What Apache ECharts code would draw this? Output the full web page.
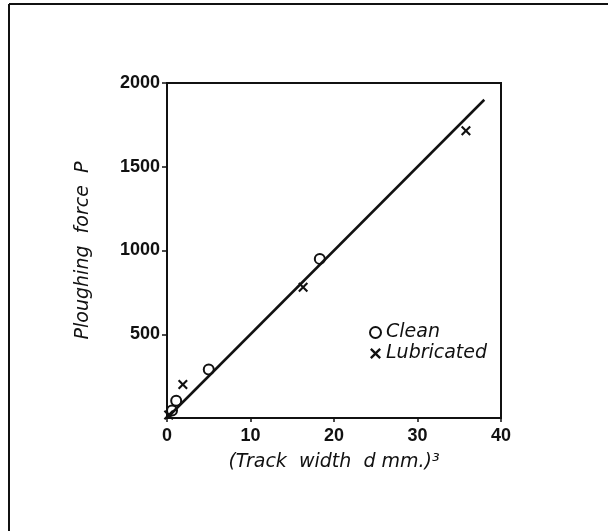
<!DOCTYPE html>
<html>
<head>
<meta charset="utf-8">
<script src="https://cdn.jsdelivr.net/npm/echarts@6/dist/echarts.min.js"></script>
<style>
  html, body { margin: 0; padding: 0; background: #fff; }
  #chart { width: 608px; height: 531px; }
</style>
</head>
<body>
<div id="chart"></div>
<script>
// Ploughing force P against the cube of the track width d (mm)
const xTicks = [0, 10, 20, 30, 40];
const yTicks = [0, 500, 1000, 1500, 2000];

const cleanX = [0.6, 1.1, 5.0, 18.3];
const cleanY = [45, 103, 290, 950];

const lubricatedX = [0.2, 1.9, 16.3, 35.8];
const lubricatedY = [18, 200, 780, 1715];

// straight proportional line P = 50 d^3
const fitX = [0, 38];
const fitY = [0, 1900];

const ink = '#111';
const labelFont = 'DejaVu Sans';
const crossPath = 'path://M0,1.5L1.5,0L5,3.5L8.5,0L10,1.5L6.5,5L10,8.5L8.5,10L5,6.5L1.5,10L0,8.5L3.5,5Z';

const zip = (xs, ys) => xs.map((x, i) => [x, ys[i]]);

const chart = echarts.init(document.getElementById('chart'), null, { renderer: 'canvas' });

chart.setOption({
  backgroundColor: '#fff',
  animation: false,
  graphic: [
    { type: 'line', shape: { x1: 9, y1: 4, x2: 9, y2: 531 }, style: { stroke: ink, lineWidth: 2 } },
    { type: 'line', shape: { x1: 9, y1: 4, x2: 608, y2: 4 }, style: { stroke: ink, lineWidth: 2 } }
  ],
  grid: {
    left: 167, right: 107, top: 83, bottom: 113,
    show: true, borderColor: ink, borderWidth: 2, backgroundColor: 'transparent'
  },
  legend: {
    data: ['Clean', 'Lubricated'],
    orient: 'vertical',
    left: 364, top: 318,
    itemWidth: 11, itemHeight: 11, itemGap: 2,
    textStyle: { fontFamily: labelFont, fontStyle: 'italic', fontSize: 19, color: ink }
  },
  xAxis: {
    type: 'value',
    min: xTicks[0], max: xTicks[xTicks.length - 1], interval: 10,
    name: '(Track  width  d mm.)³',
    nameLocation: 'middle', nameGap: 35,
    nameTextStyle: { fontFamily: labelFont, fontStyle: 'italic', fontSize: 19, color: ink },
    axisLine: { show: true, lineStyle: { color: ink, width: 2 } },
    axisTick: { show: true, inside: false, length: 4, lineStyle: { color: ink, width: 1.5 } },
    axisLabel: { fontFamily: 'Liberation Sans', fontSize: 18, fontWeight: 'bold', color: ink, margin: 9, formatter: v => String(v) },
    splitLine: { show: false }
  },
  yAxis: {
    type: 'value',
    min: yTicks[0], max: yTicks[yTicks.length - 1], interval: 500,
    name: 'Ploughing  force  P',
    nameLocation: 'middle', nameGap: 74,
    nameTextStyle: { fontFamily: labelFont, fontStyle: 'italic', fontSize: 19, color: ink },
    axisLine: { show: true, lineStyle: { color: ink, width: 2 } },
    axisTick: { show: true, inside: false, length: 5, lineStyle: { color: ink, width: 1.5 } },
    axisLabel: { fontFamily: 'Liberation Sans', fontSize: 18, fontWeight: 'bold', color: ink, margin: 7, showMinLabel: false, formatter: v => String(v) },
    splitLine: { show: false }
  },
  series: [
    {
      name: 'fit',
      type: 'line',
      data: zip(fitX, fitY),
      symbol: 'none',
      lineStyle: { color: ink, width: 2.5 },
      silent: true
    },
    {
      name: 'Clean',
      type: 'scatter',
      data: zip(cleanX, cleanY),
      symbol: 'emptyCircle',
      symbolSize: 10,
      itemStyle: { color: ink, borderColor: ink, borderWidth: 2, opacity: 1 }
    },
    {
      name: 'Lubricated',
      type: 'scatter',
      data: zip(lubricatedX, lubricatedY),
      symbol: crossPath,
      symbolSize: 10,
      itemStyle: { color: ink, opacity: 1 }
    }
  ]
});
</script>
</body>
</html>
